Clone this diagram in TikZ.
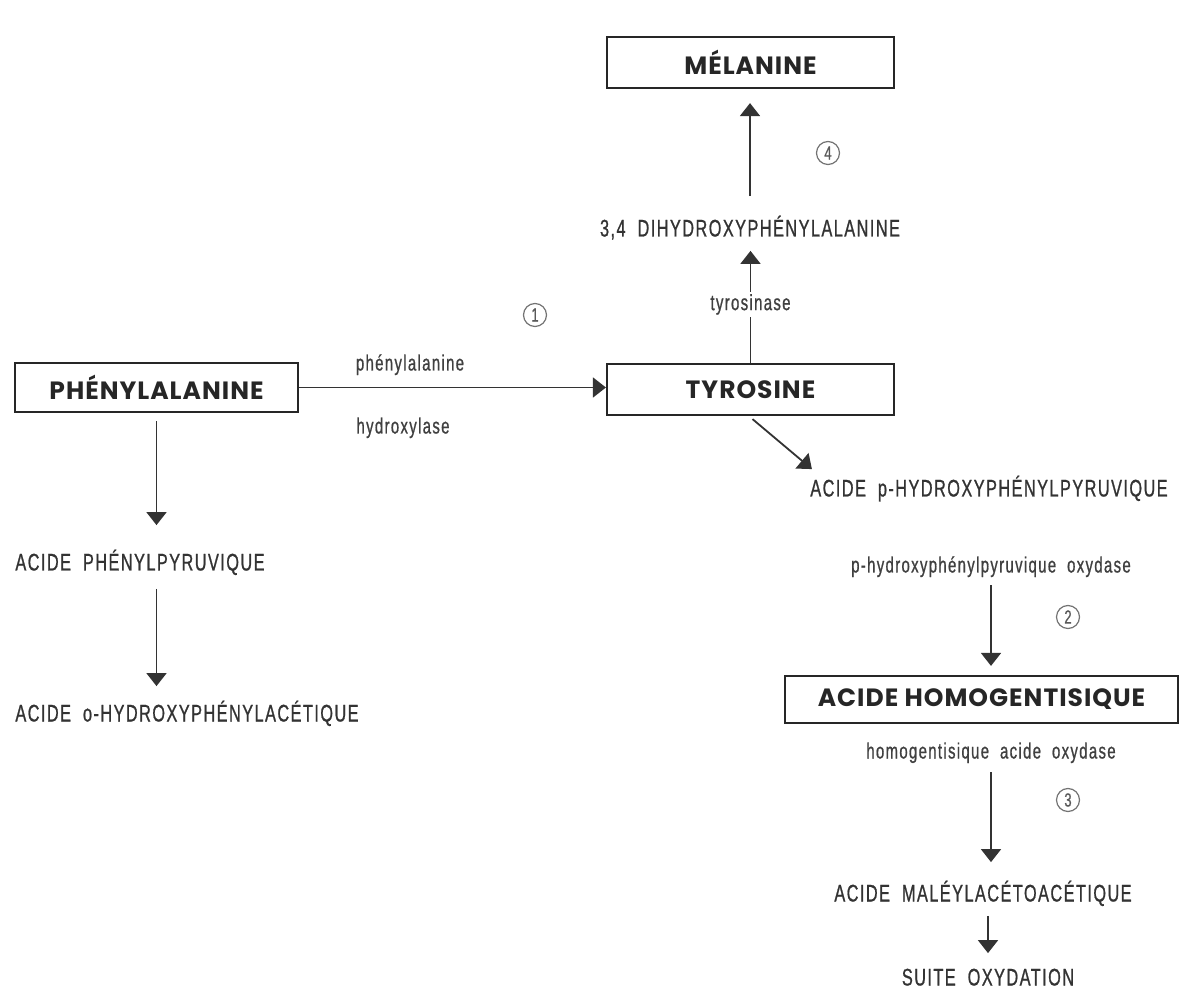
\documentclass[tikz,border=0pt]{standalone}
\usepackage{fontspec}
\setmainfont{Liberation Sans}
\newfontfamily\boxfont[LetterSpace=4]{Poppins}
\newfontfamily\condfont[FakeStretch=0.68,LetterSpace=6,FakeBold=0.8]{Liberation Sans}
\usetikzlibrary{arrows.meta}

\tikzset{
  cadre/.style={draw=black!85,line width=1.1pt,inner sep=0pt,
    font=\boxfont\bfseries\fontsize{12.5}{14}\selectfont,text=black!85},
  compose/.style={font=\condfont\fontsize{12}{14}\selectfont,text=black!80,
    inner sep=1pt,text height=8.5pt,text depth=0pt},
  enzyme/.style={font=\condfont\fontsize{11}{13}\selectfont,text=black!75,
    inner sep=1pt,text height=8pt,text depth=2.5pt},
  etape/.style={circle,draw=black!55,line width=0.6pt,inner sep=0pt,minimum size=11.5pt,
    font=\condfont\fontsize{9.5}{10}\selectfont,text=black!65},
  fleche/.style={line width=0.9pt,draw=black!80,-{Triangle[length=6.5pt,width=10pt]}}
}

\begin{document}
\begin{tikzpicture}[x=0.5pt,y=-0.5pt]
\useasboundingbox (0,0) rectangle (1179,989);

% encadrés
\node[cadre,minimum width=143.5pt,minimum height=25.5pt] (mel) at (750.5,62.5) {MÉLANINE};
\node[cadre,minimum width=143.5pt,minimum height=25.5pt] (tyr) at (750.5,389.5) {TYROSINE};
\node[cadre,minimum width=141.5pt,minimum height=24.5pt] (phe) at (156.5,387.5) {PHÉNYLALANINE};
\node[cadre,minimum width=196.5pt,minimum height=23.5pt] (hga) at (981.5,699.5) {ACIDE HOMOGENTISIQUE};

% composés
\node[compose] (dopa) at (750,228) {3,4\ \ DIHYDROXYPHÉNYLALANINE};
\node[compose,anchor=west] (app) at (13,562) {ACIDE\ \ PHÉNYLPYRUVIQUE};
\node[compose,anchor=west] (aoh) at (13,713) {ACIDE\ \ o-HYDROXYPHÉNYLACÉTIQUE};
\node[compose] (aphp) at (989,488) {ACIDE\ \ p-HYDROXYPHÉNYLPYRUVIQUE};
\node[compose] (mal) at (983,893) {ACIDE\ \ MALÉYLACÉTOACÉTIQUE};
\node[compose] (suite) at (988,977) {SUITE\ \ OXYDATION};

% enzymes
\node[enzyme] (e1a) at (410,365) {phénylalanine};
\node[enzyme] (e1b) at (403,428) {hydroxylase};
\node[enzyme] (e2) at (991,567) {p-hydroxyphénylpyruvique\ \ oxydase};
\node[enzyme] (e3) at (991,753) {homogentisique\ \ acide\ \ oxydase};

% étapes
\node[etape] (n1) at (535,315) {1};
\node[etape] (n2) at (1068,617) {2};
\node[etape] (n3) at (1068,800) {3};
\node[etape] (n4) at (828,153) {4};

% flèches
\draw[fleche] (phe.east) -- (phe.east -| tyr.west);
\draw[fleche,shorten <=4pt,shorten >=13pt] (phe.south) -- (phe.south |- app.north);
\draw[fleche,shorten <=8pt,shorten >=8pt] (phe.south |- app.south) -- (phe.south |- aoh.north);
\draw[fleche,shorten >=6pt] (tyr.north) -- node[enzyme,fill=white,pos=0.47] (tase) {tyrosinase} (tyr.north |- dopa.south);
\draw[fleche,shorten <=10.5pt,shorten >=7pt] (dopa.north) -- (dopa.north |- mel.south);
\draw[fleche] ([xshift=1pt,yshift=-1.5pt]tyr.south) -- ([xshift=2pt,yshift=4pt]aphp.north west);
\draw[fleche,shorten <=2.75pt,shorten >=4.5pt] (e2.south) -- (e2.south |- hga.north);
\draw[fleche,shorten <=3.25pt,shorten >=10pt] (e3.south) -- (e3.south |- mal.north);
\draw[fleche,shorten <=6pt,shorten >=6.5pt] (suite.north |- mal.south) -- (suite.north);
\end{tikzpicture}
\end{document}
